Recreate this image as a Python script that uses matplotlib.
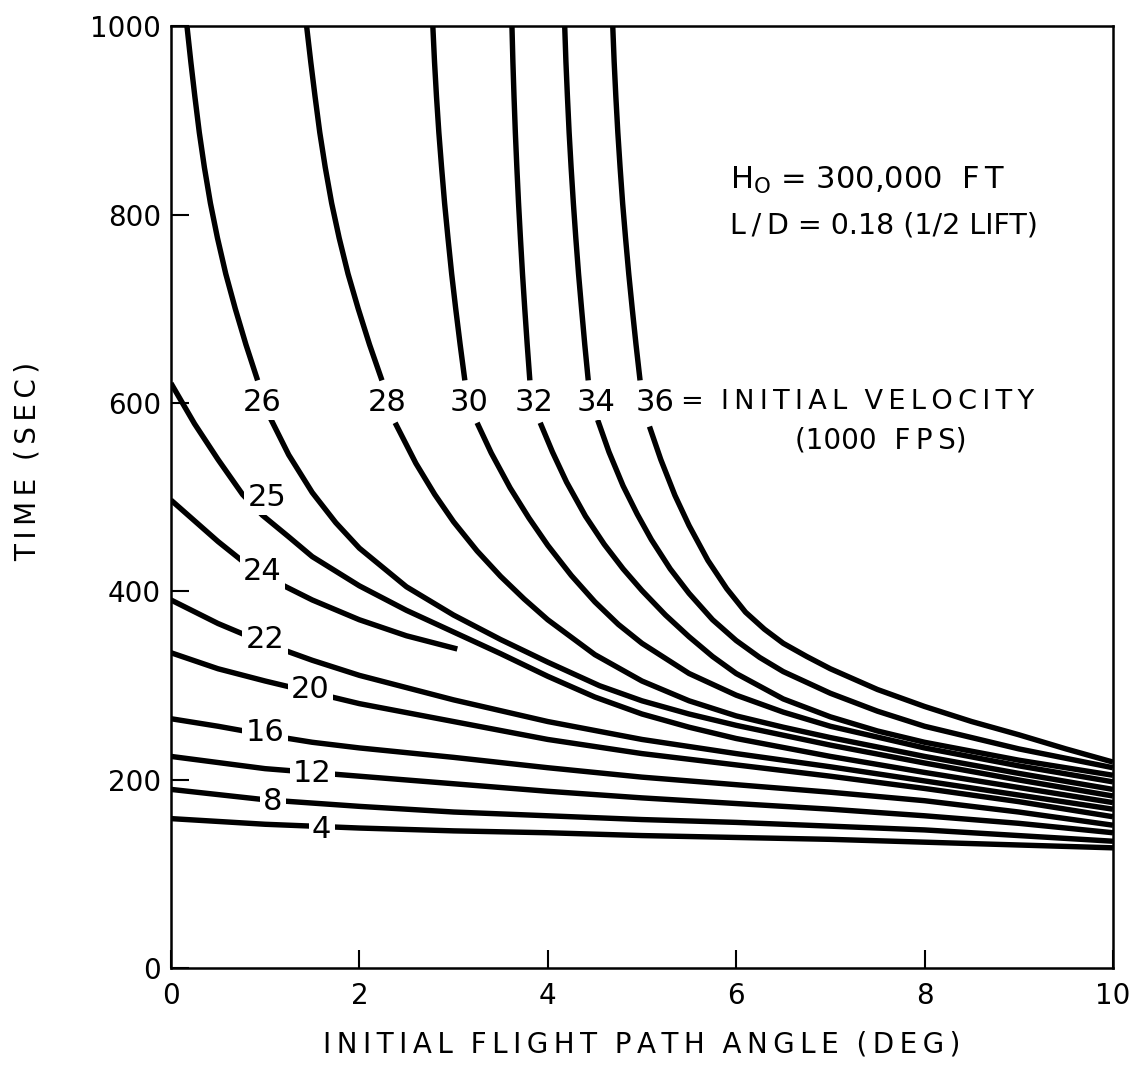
import matplotlib
matplotlib.use("Agg")
import matplotlib.pyplot as plt

plt.rcParams['font.family'] = ['DejaVu Sans']

# curves: initial flight path angle (deg) vs time (sec)
ang_4 = [0, 1, 2, 3, 4, 5, 6, 7, 8, 9, 10]
sec_4 = [159, 153, 149, 146, 144, 141, 139, 137, 134, 131, 128]
ang_8 = [0, 1, 2, 3, 4, 5, 6, 7, 8, 9, 10]
sec_8 = [190, 179, 172, 166, 162, 158, 155, 151, 147, 141, 135]
ang_12 = [0, 1, 2, 3, 4, 5, 6, 7, 8, 9, 10]
sec_12 = [225, 212, 204, 196, 188, 181, 175, 169, 162, 154, 144]
ang_16 = [0, 0.5, 1, 1.5, 2, 3, 4, 5, 6, 7, 8, 9, 10]
sec_16 = [265, 257, 248, 240, 234, 224, 213, 203, 195, 187, 178, 166, 152]
ang_20 = [0, 0.5, 1, 1.5, 2, 3, 4, 5, 6, 7, 8, 9, 10]
sec_20 = [335, 318, 305, 293, 281, 262, 243, 228, 216, 204, 191, 177, 161]
ang_22 = [0, 0.5, 1, 1.5, 2, 3, 4, 5, 6, 7, 8, 9, 10]
sec_22 = [391, 366, 345, 327, 311, 285, 262, 243, 228, 214, 199, 184, 169]
ang_24 = [0, 0.25, 0.5, 0.75, 1, 1.5, 2, 2.5, 3.04]
sec_24 = [497, 475, 453, 433, 416, 391, 370, 353, 339]
ang_25 = [0, 0.25, 0.5, 0.76, 0.97, 1.25, 1.5, 2, 2.5, 3, 3.5, 4, 4.5, 5, 5.5,
          6, 7, 8, 9, 10]
sec_25 = [621, 578, 540, 503, 481, 458, 437, 406, 380, 357, 334, 310, 288, 270,
          256, 244, 225, 208, 192, 176]

# the steep upper branches, read at the same heights for each curve
sec_top = [1000, 962, 925, 887, 850, 812, 775, 737, 700, 662, 624]
ang_26_top = [0.17, 0.211, 0.254, 0.301, 0.355, 0.419, 0.494, 0.582, 0.683, 0.796, 0.92]
ang_28_top = [1.44, 1.484, 1.530, 1.580, 1.638, 1.706, 1.786, 1.880, 1.988, 2.108, 2.24]
ang_30_top = [2.78, 2.798, 2.819, 2.844, 2.873, 2.905, 2.941, 2.980, 3.023, 3.070, 3.12]
ang_32_top = [3.62, 3.630, 3.642, 3.656, 3.672, 3.690, 3.710, 3.732, 3.756, 3.782, 3.81]
ang_34_top = [4.18, 4.193, 4.209, 4.227, 4.248, 4.272, 4.298, 4.327, 4.359, 4.393, 4.43]
ang_36_top = [4.69, 4.705, 4.723, 4.744, 4.768, 4.795, 4.826, 4.860, 4.897, 4.937, 4.98]

# lower branches below the labels
ang_26 = [1.05, 1.25, 1.5, 1.75, 2, 2.5, 3, 3.5, 4, 4.55, 5, 5.5, 6, 7, 8, 9, 10]
sec_26 = [585, 545, 505, 473, 446, 405, 375, 349, 325, 300, 284, 270, 258, 237,
          218, 200, 183]
ang_28 = [2.38, 2.6, 2.8, 3, 3.25, 3.5, 3.75, 4, 4.5, 5, 5.5, 6, 6.5, 7, 8, 9, 10]
sec_28 = [579, 536, 503, 474, 443, 416, 392, 370, 333, 305, 284, 268, 256, 245,
          225, 207, 190]
ang_30 = [3.25, 3.4, 3.6, 3.8, 4, 4.25, 4.5, 4.75, 5, 5.5, 6, 6.5, 7, 8, 9, 10]
sec_30 = [579, 547, 510, 478, 449, 417, 389, 365, 345, 313, 290, 272, 257, 234,
          215, 198]
ang_32 = [3.92, 4.05, 4.2, 4.4, 4.6, 4.8, 5, 5.25, 5.5, 5.75, 6, 6.5, 7, 7.5, 8,
          9, 10]
sec_32 = [579, 548, 516, 480, 450, 424, 401, 375, 352, 331, 313, 286, 267, 252,
          240, 221, 205]
ang_34 = [4.53, 4.65, 4.8, 4.95, 5.1, 5.3, 5.5, 5.75, 6, 6.25, 6.5, 7, 7.5, 8,
          9, 10]
sec_34 = [582, 548, 512, 482, 455, 424, 398, 370, 348, 330, 315, 292, 273, 257,
          233, 213]
ang_36 = [5.08, 5.2, 5.35, 5.5, 5.7, 5.9, 6.1, 6.3, 6.5, 6.75, 7, 7.5, 8, 8.5,
          9, 9.5, 10]
sec_36 = [575, 540, 502, 470, 433, 403, 378, 360, 345, 331, 318, 296, 278, 262,
          248, 233, 219]

curves = [(ang_4, sec_4), (ang_8, sec_8), (ang_12, sec_12), (ang_16, sec_16),
          (ang_20, sec_20), (ang_22, sec_22), (ang_24, sec_24), (ang_25, sec_25),
          (ang_26_top, sec_top), (ang_26, sec_26),
          (ang_28_top, sec_top), (ang_28, sec_28),
          (ang_30_top, sec_top), (ang_30, sec_30),
          (ang_32_top, sec_top), (ang_32, sec_32),
          (ang_34_top, sec_top), (ang_34, sec_34),
          (ang_36_top, sec_top), (ang_36, sec_36)]

# curve labels (initial velocity, 1000 fps) and where they sit
label_text = ['4', '8', '12', '16', '20', '22', '24', '25',
              '26', '28', '30', '32', '34', '36']
label_x = [1.6, 1.08, 1.5, 1.0, 1.48, 1.0, 0.97, 1.02,
           0.97, 2.30, 3.17, 3.86, 4.51, 5.14]
label_y = [147, 177, 207, 250, 296, 349, 421, 500,
           601, 601, 601, 601, 601, 601]

x_ticks = [0, 2, 4, 6, 8, 10]
y_ticks = [0, 200, 400, 600, 800, 1000]

TS = '\u2009'  # thin space used for the letter-spaced captions


def spaced(s):
    return TS.join(s)


fig = plt.figure(figsize=(11.45, 10.66), dpi=100)
ax = fig.add_axes([0.1493, 0.0915, 0.8227, 0.8841])

for xs, ys in curves:
    ax.plot(xs, ys, color='black', lw=3.9, solid_capstyle='butt',
            solid_joinstyle='round')

for t, x, y in zip(label_text, label_x, label_y):
    ax.text(x, y, t, fontsize=22, ha='center', va='center',
            bbox=dict(facecolor='white', edgecolor='none', pad=2.5))

ax.text(5.41, 601, '=  ' + spaced('INITIAL') + '  ' + spaced('VELOCITY'),
        fontsize=19.5, ha='left', va='center')
ax.text(7.53, 560, '(1000  ' + spaced('FPS') + ')', fontsize=20,
        ha='center', va='center')

ax.text(5.93, 836, r'H$_\mathrm{O}$ = 300,000  F' + TS + 'T', fontsize=22,
        ha='left', va='center')
ax.text(5.93, 788, 'L' + TS + '/' + TS + 'D = 0.18 (1/2 LIFT)', fontsize=20.5,
        ha='left', va='center')

ax.set_xlim(0, 10)
ax.set_ylim(0, 1000)
ax.set_xticks(x_ticks)
ax.set_yticks(y_ticks)
ax.tick_params(direction='in', length=13, width=1.5, labelsize=20)
ax.tick_params(axis='x', pad=10)
ax.tick_params(axis='y', pad=7)
for s in ax.spines.values():
    s.set_linewidth(1.8)

xlab = '  '.join(spaced(w) for w in 'INITIAL FLIGHT PATH ANGLE (DEG)'.split())
ylab = '  '.join(spaced(w) for w in 'TIME (SEC)'.split())
fig.text(0.5607, 0.02, xlab, fontsize=20, ha='center', va='center')
fig.text(0.024, 0.567, ylab, fontsize=20, ha='center', va='center',
         rotation=90)

fig.savefig('out.png', dpi=100)
